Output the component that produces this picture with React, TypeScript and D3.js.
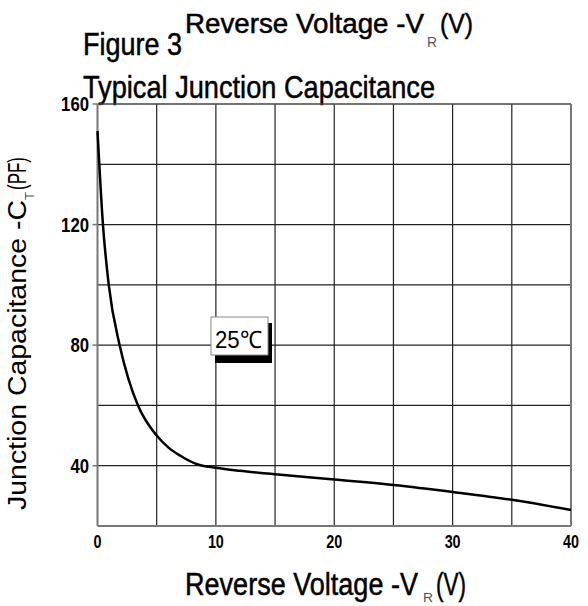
import React from 'react';
import * as d3 from 'd3';

// Reverse voltage (V) vs junction capacitance (pF)
const voltage = [0, 0.46, 0.95, 1.87, 2.6, 3.42, 5, 6, 7, 8.4, 10, 12, 15, 20, 25, 30, 35, 40];
const capacitance = [151, 120, 100, 80, 69, 60, 50, 46, 43.3, 40.5, 39.3, 38.3, 37.2, 35.4, 33.6, 31.3, 28.7, 25.3];

const xGrid = [5, 10, 15, 20, 25, 30, 35];
const yGrid = [40, 60, 80, 100, 120, 140];
const xTickLabels = [0, 10, 20, 30, 40];
const yTickLabels = [40, 80, 120, 160];

const WIDTH = 588;
const HEIGHT = 606;
const FONT = 'Liberation Sans, Arial, sans-serif';

export default function App() {
  const margin = { left: 97.5, right: 17, top: 104, bottom: 80 };

  const x = d3
    .scaleLinear()
    .domain([0, 40])
    .range([margin.left, WIDTH - margin.right]);

  const y = d3
    .scaleLinear()
    .domain([20, 160])
    .range([HEIGHT - margin.bottom, margin.top]);

  const points = voltage.map((v, i) => [v, capacitance[i]] as [number, number]);

  const line = d3
    .line<[number, number]>()
    .x((d) => x(d[0]))
    .y((d) => y(d[1]))
    .curve(d3.curveMonotoneX);

  const x0 = x(0);
  const x1 = x(40);
  const y0 = y(20);
  const y1 = y(160);

  // thicken the compressed glyphs a little so they read like the scanned figure
  const heavy = { stroke: '#000', strokeWidth: 0.5 };

  return (
    <svg
      width={WIDTH}
      height={HEIGHT}
      style={{ position: 'absolute', left: 0, top: 0, background: '#fff' }}
      fontFamily={FONT}
    >
      {/* titles */}
      <g {...heavy}>
        <text x={185} y={33} fontSize={27} textLength={239} lengthAdjust="spacingAndGlyphs">
          {'Reverse  Voltage -V'}
        </text>
        <text x={440} y={33} fontSize={27} textLength={33} lengthAdjust="spacingAndGlyphs">
          (V)
        </text>
        <text x={83} y={55} fontSize={32} textLength={99} lengthAdjust="spacingAndGlyphs">
          Figure 3
        </text>
        <text x={83} y={98} fontSize={32} textLength={352} lengthAdjust="spacingAndGlyphs">
          Typical Junction Capacitance
        </text>
      </g>
      <text x={427} y={47} fontSize={14} fill="#555" textLength={10} lengthAdjust="spacingAndGlyphs">
        R
      </text>

      {/* grid */}
      {xGrid.map((v) => (
        <line key={`gx${v}`} x1={x(v)} x2={x(v)} y1={y1} y2={y0} stroke="#222" strokeWidth={1.2} />
      ))}
      {yGrid.map((v) => (
        <line key={`gy${v}`} x1={x0} x2={x1} y1={y(v)} y2={y(v)} stroke="#222" strokeWidth={1.2} />
      ))}

      {/* frame */}
      <line x1={x0} x2={x1} y1={y1} y2={y1} stroke="#444" strokeWidth={1.5} />
      <line x1={x1} x2={x1} y1={y1} y2={y0} stroke="#777" strokeWidth={2} />
      <line x1={x0} x2={x0} y1={y1} y2={y0} stroke="#777" strokeWidth={2} />
      <line x1={x0} x2={x1} y1={y0} y2={y0} stroke="#777" strokeWidth={2} />

      {/* y ticks */}
      {yTickLabels.map((v) => (
        <g key={`ty${v}`}>
          <line x1={x0 - 5} x2={x0} y1={y(v)} y2={y(v)} stroke="#777" strokeWidth={1.5} />
          <text
            x={89}
            y={y(v) + 7}
            fontSize={20}
            fontWeight="bold"
            textAnchor="end"
            textLength={String(v).length * 9.3}
            lengthAdjust="spacingAndGlyphs"
          >
            {v}
          </text>
        </g>
      ))}

      {/* x ticks */}
      {xTickLabels.map((v) => (
        <text
          key={`tx${v}`}
          x={x(v)}
          y={548}
          fontSize={18}
          fontWeight="bold"
          textAnchor="middle"
          textLength={String(v).length * 8}
          lengthAdjust="spacingAndGlyphs"
        >
          {v}
        </text>
      ))}

      {/* curve */}
      <path d={line(points) ?? ''} fill="none" stroke="#000" strokeWidth={2.5} />

      {/* temperature label */}
      <rect x={215} y={323} width={57} height={40} fill="#000" />
      <rect x={211} y={317} width={57} height={38} fill="#fff" stroke="#888" strokeWidth={1} />
      <text x={215} y={348} fontSize={24} textLength={47} lengthAdjust="spacingAndGlyphs">
        25℃
      </text>

      {/* x axis title */}
      <g {...heavy}>
        <text x={185} y={595} fontSize={31} textLength={233} lengthAdjust="spacingAndGlyphs">
          Reverse Voltage -V
        </text>
        <text x={436} y={595} fontSize={31} textLength={30} lengthAdjust="spacingAndGlyphs">
          (V)
        </text>
      </g>
      <text x={423} y={602} fontSize={12} fill="#555" textLength={10} lengthAdjust="spacingAndGlyphs">
        R
      </text>

      {/* y axis title */}
      <g transform="translate(26,510) rotate(-90)">
        <text x={0} y={0} fontSize={26} textLength={310} lengthAdjust="spacingAndGlyphs">
          Junction Capacitance -C
        </text>
        <text x={310} y={8} fontSize={13} fill="#555" textLength={8} lengthAdjust="spacingAndGlyphs">
          T
        </text>
        <text x={320} y={0} fontSize={26} textLength={33} lengthAdjust="spacingAndGlyphs">
          (PF)
        </text>
      </g>
    </svg>
  );
}
